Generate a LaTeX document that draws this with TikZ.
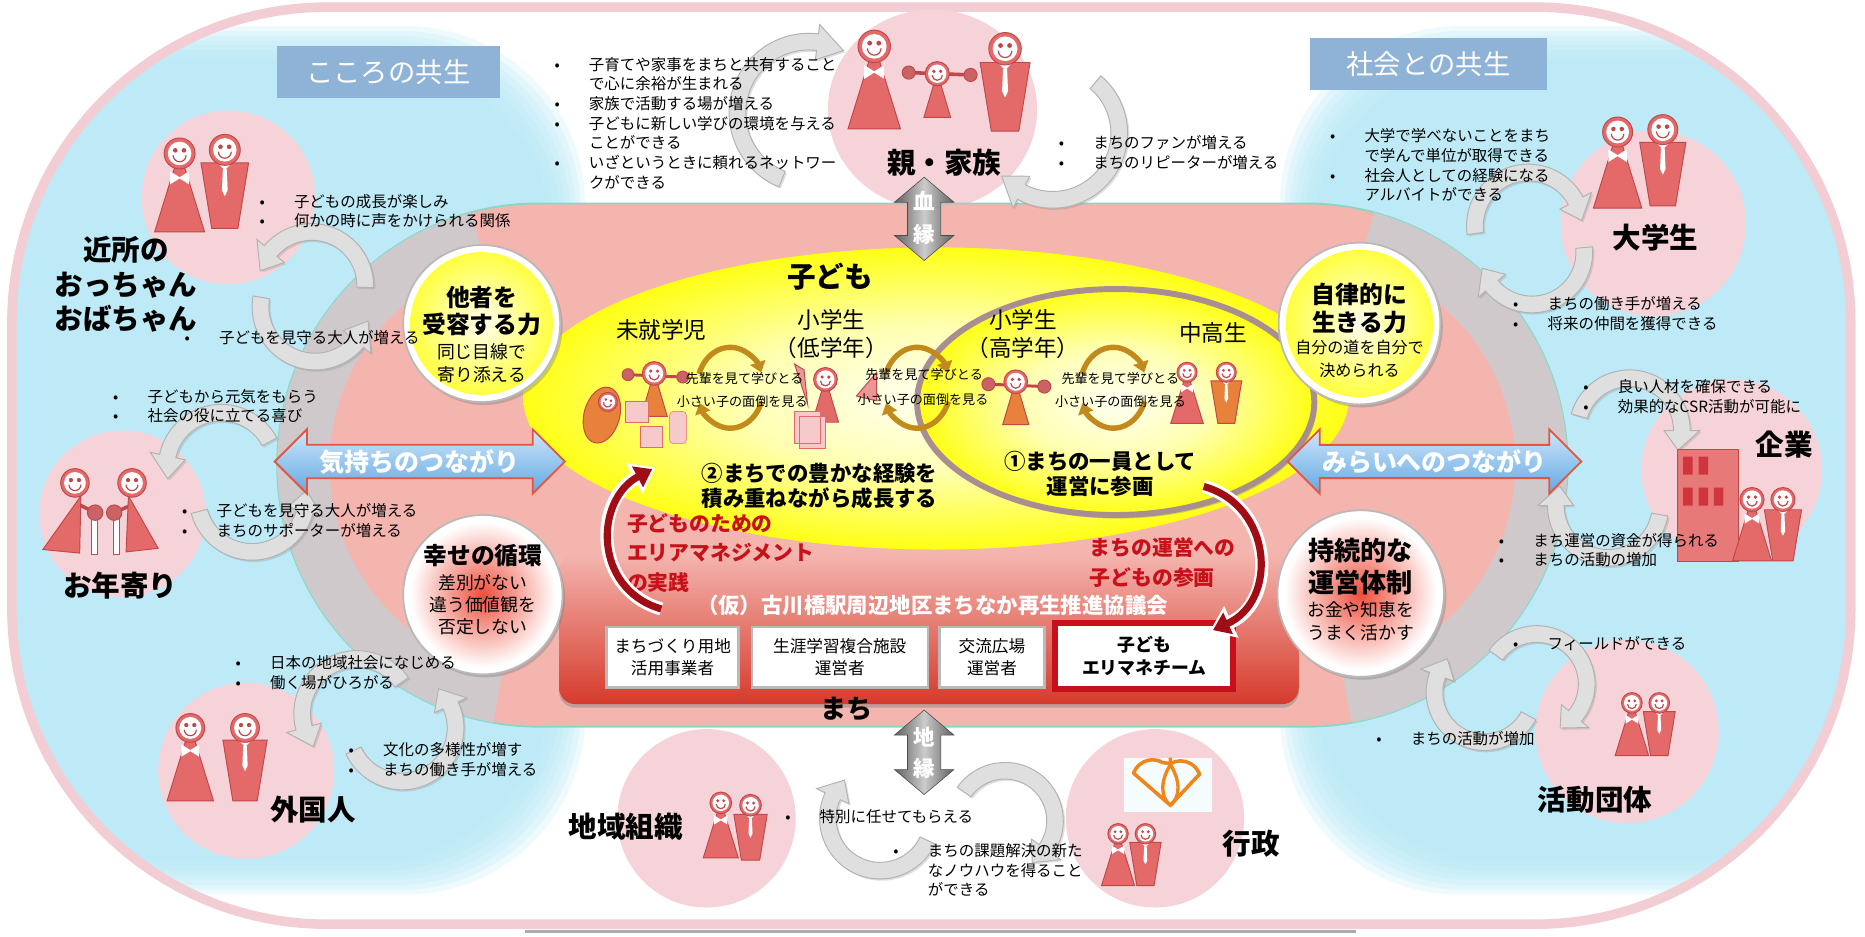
\documentclass[tikz,border=0pt]{standalone}
\usepackage{fontspec}
\setmainfont{Noto Sans CJK JP}
\usetikzlibrary{positioning, calc, shapes.arrows, shadows, arrows.meta}

\definecolor{bandpink}{HTML}{F2CDD3}
\definecolor{skyblue}{HTML}{B3E7F5}
\definecolor{rosebg}{HTML}{F6D3D8}
\definecolor{salmon}{HTML}{F4B5AE}
\definecolor{tealline}{HTML}{86D8C6}
\definecolor{tagblue}{HTML}{8EB3D6}
\definecolor{figred}{HTML}{E46A6A}
\definecolor{figdark}{HTML}{C0474A}
\definecolor{kidorange}{HTML}{E8813A}
\definecolor{loopbrown}{HTML}{C28A1C}
\definecolor{deepred}{HTML}{C8101A}
\definecolor{arrowred}{HTML}{E4553F}
\definecolor{linkblue}{HTML}{62A7E2}
\definecolor{linklight}{HTML}{CFE7FA}
\definecolor{panelred}{HTML}{D63A2C}
\definecolor{ember}{HTML}{EE4E3C}
\definecolor{ringmauve}{HTML}{A88E90}
\definecolor{ringgrey}{HTML}{C9CDD1}
\definecolor{blockpink}{HTML}{F6CACA}
\definecolor{emblemorange}{HTML}{F0861A}
\colorlet{yolkcore}{yellow!5}
\colorlet{yolkmid}{yellow!30}
\colorlet{yolkrim}{yellow!92}

\pgfdeclareradialshading{yolk}{\pgfpoint{0bp}{0bp}}{color(0bp)=(yolkcore); color(12bp)=(yolkmid); color(25bp)=(yolkrim); color(50bp)=(yolkrim)}

\tikzset{
stake/.style={font=\bfseries\fontsize{24}{29}\selectfont, align=center, inner sep=0pt}, % names of the partners
pointlist/.style={font=\fontsize{13}{16.5}\selectfont, align=left, anchor=north west, inner sep=0pt}, % bullet points
cyclearrow/.style={fill=gray!25, draw=gray!60, line width=0.8pt, drop shadow={opacity=0.25, shadow xshift=1.5pt, shadow yshift=-1.5pt}}, % grey round arrows
growloop/.style={loopbrown, line width=4.5pt, -{Triangle[length=9pt, width=13pt]}}, % brown loops between age groups
looptext/.style={font=\fontsize{11}{13}\selectfont, inner sep=0pt},
doll/.style={draw=figdark, line width=0.8pt},
heading/.style={font=\bfseries\fontsize{20}{23}\selectfont, align=center, inner sep=0pt},
subtext/.style={font=\fontsize{15}{19}\selectfont, align=center, inner sep=0pt},
rim/.style={fill=white, drop shadow={opacity=0.4, shadow xshift=2pt, shadow yshift=-2.5pt}},
tag/.style={fill=tagblue, text=white, font=\fontsize{23}{25}\selectfont, minimum width=187pt, minimum height=43pt},
link/.style={double arrow, double arrow head extend=13pt, draw=arrowred, line width=1.5pt, top color=linklight, bottom color=linkblue, text=white, font=\bfseries\fontsize{21}{24}\selectfont, minimum height=244pt, inner ysep=3pt, inner xsep=6pt},
kinship/.style={left color=gray!75!black, right color=gray!75!black, middle color=gray!40, draw=gray!60!black, line width=0.5pt}, % grey double arrows
kinshiptext/.style={text=white, font=\bfseries\fontsize{18}{20}\selectfont, inner sep=0pt},
unitbox/.style={fill=white, draw=gray!55, line width=2pt, font=\fontsize{14}{19}\selectfont, align=center, minimum height=51pt, inner sep=1pt},
redtext/.style={text=deepred, font=\bfseries\fontsize{17.5}{24.5}\selectfont, align=left, inner sep=0pt},
boldtext/.style={font=\bfseries\fontsize{18}{21.5}\selectfont, align=center, inner sep=0pt},
agetext/.style={font=\fontsize{19}{24}\selectfont, align=center, inner sep=0pt},
redlink outer/.style={white, line width=11pt, -{Triangle[length=20pt, width=28pt]}},
redlink inner/.style={deepred!80!black, line width=6pt, shorten >=3pt, -{Triangle[length=14pt, width=19pt]}},
}

\newcommand\dotitem{\makebox[29pt][l]{•}}
\newcommand\itemgap{\hspace*{29pt}}
% smiling head of radius #1 at the origin
\newcommand\smiley[1]{%
  \filldraw[fill=figred, doll] (0,0) circle (#1);
  \fill[white] (0,0) circle (0.76*#1);
  \fill[figdark] (-0.28*#1,-0.2*#1) circle (0.15*#1) (0.28*#1,-0.2*#1) circle (0.15*#1);
  \draw[figdark, line width=1pt] (-0.42*#1,0.12*#1) arc[start angle=180, end angle=0, radius=0.42*#1];}
\newcommand\lady[4]{% head centre x, y, size, dress colour
  \begin{scope}[shift={(#1,#2)}, scale=#3]
    \filldraw[fill=#4, doll] (-4,11) -- (4,11) -- (21,66) -- (-21,66) -- cycle;
    \fill[white] (-8,15) -- (0,20) -- (8,15) -- (8,26) -- (0,21) -- (-8,26) -- cycle;
    \smiley{13}
  \end{scope}}
\newcommand\gent[4]{% head centre x, y, size, suit colour
  \begin{scope}[shift={(#1,#2)}, scale=#3]
    \filldraw[fill=#4, doll] (-20,11) -- (20,11) -- (11,66) -- (-11,66) -- cycle;
    \fill[white] (-6,11) -- (6,11) -- (0,17) -- cycle;
    \fill[white] (-1.6,16) -- (1.6,16) -- (2.4,34) -- (0,39) -- (-2.4,34) -- cycle;
    \smiley{13}
  \end{scope}}
\newcommand\kid[4]{% head centre x, y, size, body colour
  \begin{scope}[shift={(#1,#2)}, scale=#3]
    \filldraw[fill=#4, doll] (-3,9) -- (3,9) -- (11,36) -- (-11,36) -- cycle;
    \smiley{10}
  \end{scope}}
% grey round arrow: centre, radius, from, to, tip offset
\newcommand\cyclearc[5]{%
  \pgfmathsetmacro\tipangle{#4+#5}%
  \filldraw[cyclearrow] ($(#1)+(#3:#2+7)$) arc[start angle=#3, end angle=#4, radius=#2+7]
    -- ($(#1)+(#4:#2+15)$) -- ($(#1)+(\tipangle:#2)$) -- ($(#1)+(#4:#2-15)$)
    -- ($(#1)+(#4:#2-7)$) arc[start angle=#4, end angle=#3, radius=#2-7] -- cycle;}
% round statement disc
\newcommand\roundel[4]{%
  \fill[rim] (#1) circle (#2);
  \shade[inner color=#3, outer color=#4] (#1) circle (#2-6);
  \draw[gray!55, line width=1.5pt] (#1) circle (#2);}
% vertical grey double arrow: x, top y, bottom y
\newcommand\kinarrow[3]{%
  \path[kinship] (#1,#2) -- (#1+25,#2+21) -- (#1+14,#2+21) -- (#1+14,#3-21) -- (#1+25,#3-21)
    -- (#1,#3) -- (#1-25,#3-21) -- (#1-14,#3-21) -- (#1-14,#2+21) -- (#1-25,#2+21) -- cycle;}

\begin{document}
\begin{tikzpicture}[x=1pt, y=-1pt]
\useasboundingbox (0,0) rectangle (1568,787);

% light blue fields left and right, soft edged
\begin{scope}
  \clip[rounded corners=265pt] (10,6) rectangle (1556,777);
  \foreach \k in {0,...,7} {
    \fill[skyblue, opacity=0.22, rounded corners=150pt] (-40+4*\k,22+4*\k) rectangle (492-4*\k,752-4*\k);
    \fill[skyblue, opacity=0.22, rounded corners=150pt] (1076+4*\k,22+4*\k) rectangle (1608-4*\k,752-4*\k);
  }
\end{scope}
\draw[bandpink, line width=8pt, rounded corners=265pt] (10,6) rectangle (1556,777);

% pink discs behind the partners
\fill[rosebg] (192,166) circle (73);
\fill[rosebg] (103,432) circle (70);
\fill[rosebg] (207,648) circle (74);
\fill[rosebg] (784,92) ellipse [x radius=88, y radius=84];
\fill[rosebg] (1390,188) circle (78);
\fill[rosebg] (1456,395) circle (76);
\fill[rosebg] (1368,615) circle (77);
\fill[rosebg] (594,688) circle (75);
\fill[rosebg] (971,688) circle (75);

% the town area with a grey band along both ends
\filldraw[fill=salmon, draw=tealline, line width=1.5pt, rounded corners=220pt] (233,171) rectangle (1318,611);
\begin{scope}[ringgrey, line width=44pt, opacity=0.85]
  \draw (453,391) ++(100:198) arc[start angle=100, end angle=255, radius=198];
  \draw (1098,391) ++(-75:198) arc[start angle=-75, end angle=80, radius=198];
\end{scope}

% round arrows between the partners and the town
\cyclearc{680,95}{60}{112}{277}{22}
\cyclearc{885,112}{56}{-50}{118}{22}
\cyclearc{262,240}{45}{2}{-140}{-24}
\cyclearc{265,258}{46}{190}{40}{-25}
\cyclearc{186,393}{46}{-28}{-168}{-24}
\cyclearc{212,418}{46}{165}{15}{-22}
\cyclearc{300,600}{46}{-35}{-195}{-22}
\cyclearc{338,612}{45}{155}{-25}{-22}
\cyclearc{740,688}{44}{25}{205}{22}
\cyclearc{845,690}{42}{215}{395}{22}
\cyclearc{1285,190}{45}{172}{332}{22}
\cyclearc{1288,212}{44}{-5}{140}{22}
\cyclearc{1370,362}{44}{196}{360}{22}
\cyclearc{1352,425}{44}{10}{180}{22}
\cyclearc{1292,575}{42}{215}{400}{22}
\cyclearc{1248,582}{42}{28}{200}{22}

% partners
\lady{151}{129}{1}{figred}
\gent{189}{126}{1}{figred}
\lady{735}{39}{1.05}{figred}
\gent{845}{41}{1.05}{figred}
\draw[figdark, line width=3pt] (764,61) -- (816,63);
\filldraw[fill=figdark!85, doll] (764,61) circle (5.5) (816,63) circle (5.5);
\kid{788}{62}{1.02}{figred}
\lady{160}{612}{0.93}{figred}
\gent{206}{612}{0.93}{figred}
\lady{1360}{111}{0.97}{figred}
\gent{1398}{109}{0.97}{figred}
\lady{1372}{591}{0.67}{figred}
\gent{1395}{591}{0.67}{figred}
\lady{606}{675}{0.7}{figred}
\gent{631}{677}{0.7}{figred}
\lady{940}{701}{0.66}{figred}
\gent{963}{701}{0.66}{figred}
% elderly pair with canes
\draw[figdark, line width=3pt] (66,424) -- (80,431) (112,424) -- (96,431);
\filldraw[fill=figred, doll] (68,417) -- (36,462) -- (67,465) -- cycle;
\filldraw[fill=figred, doll] (108,417) -- (133,461) -- (106,464) -- cycle;
\filldraw[fill=white, draw=figdark, line width=0.6pt] (77,434) rectangle (82,466) (95,434) rectangle (100,466);
\filldraw[fill=figdark!85, doll] (80,431) circle (6.5) (96,431) circle (6.5);
\begin{scope}[shift={(63,406)}] \smiley{12} \end{scope}
\begin{scope}[shift={(111,406)}] \smiley{12} \end{scope}
% company building and staff
\filldraw[fill=figred!90, draw=figdark] (1410,378) rectangle (1461,472);
\fill[deepred!85] (1415,384) rectangle (1423,399) (1428,384) rectangle (1436,399)
  (1415,410) rectangle (1423,425) (1428,410) rectangle (1436,425) (1441,410) rectangle (1449,425);
\lady{1473}{420}{0.78}{figred}
\gent{1499}{420}{0.78}{figred}
% city emblem
\fill[cyan!4] (945,637) rectangle (1019,683);
\draw[emblemorange, line width=3pt, line join=round] (984,677) -- (953,650) arc[start angle=200, end angle=300, radius=17] -- (984,642)
  arc[start angle=240, end angle=340, radius=17] -- cycle;
\draw[emblemorange, line width=2.8pt] (984,643) .. controls (975,657) and (976,671) .. (984,677) .. controls (992,671) and (993,657) .. (984,643) -- (984,637);

% children field
\shade[shading=yolk] (787,335) ellipse [x radius=347, y radius=127];
\shadedraw[shading=yolk, draw=ringmauve, line width=5pt, drop shadow={opacity=0.35, shadow xshift=2pt, shadow yshift=-3pt}] (938,338) ellipse [x radius=167, y radius=95];

% council panel with its members
\node[top color=salmon, bottom color=panelred, rounded corners=14pt, minimum width=622pt, minimum height=126pt, drop shadow={opacity=0.45, shadow xshift=0pt, shadow yshift=-3pt}] (panel) at (781,529) {};
\node[boldtext, text=white] (council) at (784,509) {（仮）古川橋駅周辺地区まちなか再生推進協議会};
\node[unitbox, minimum width=111pt] (landuse) at (565.5,552.5) {まちづくり用地\\活用事業者};
\node[unitbox, minimum width=148pt] (learning) at (706,552.5) {生涯学習複合施設\\運営者};
\node[unitbox, minimum width=88pt] (plaza) at (834,552.5) {交流広場\\運営者};
\node[unitbox, draw=deepred, line width=5pt, minimum width=150pt, minimum height=56pt, font=\bfseries\fontsize{15}{20}\selectfont] (team) at (962,551.5) {子ども\\エリマネチーム};
\node[stake, font=\bfseries\fontsize{22}{24}\selectfont] (town) at (712,596) {まち};

% four round statements
\roundel{405,272}{66}{yellow!6}{yellow!75}
\roundel{1143,272}{68}{yellow!6}{yellow!75}
\roundel{406,500}{67}{ember}{white}
\roundel{1144,499}{70}{ember}{white}
\node[heading] (accept) at (405,261.5) {他者を\\受容する力};
\node[subtext] (accept-note) at (405,305.5) {同じ目線で\\寄り添える};
\node[heading] (selfrule) at (1143,259.5) {自律的に\\生きる力};
\node[subtext, font=\fontsize{13.5}{19}\selectfont] (selfrule-note) at (1143,301.5) {自分の道を自分で\\決められる};
\node[heading] (happiness) at (406,467) {幸せの循環};
\node[subtext, font=\fontsize{15}{18.5}\selectfont] (happiness-note) at (406,508.5) {差別がない\\違う価値観を\\否定しない};
\node[heading, font=\bfseries\fontsize{22}{27}\selectfont] (lasting) at (1144,476) {持続的な\\運営体制};
\node[subtext] (lasting-note) at (1144,522.5) {お金や知恵を\\うまく活かす};

% links to both sides, to the family and to the neighbourhood
\node[link] (feeling) at (353,388) {気持ちのつながり};
\node[link, minimum height=247pt] (future) at (1206,388) {みらいへのつながり};
\kinarrow{777}{149}{219}
\node[kinshiptext] (blood-a) at (777,169) {血};
\node[kinshiptext] (blood-b) at (777,197) {縁};
\kinarrow{777}{597}{668}
\node[kinshiptext] (land-a) at (777,620) {地};
\node[kinshiptext] (land-b) at (777,646) {縁};

% labels
\node[tag] (kokoro) at (326.5,60.5) {こころの共生};
\node[tag, minimum width=200pt, minimum height=44pt] (shakai) at (1201,54) {社会との共生};
\node[stake] (neighbours) at (106,239) {近所の\\おっちゃん\\おばちゃん};
\node[stake] (elderly) at (101,492) {お年寄り};
\node[stake] (foreigners) at (263,681) {外国人};
\node[stake] (family) at (794,137) {親・家族};
\node[stake] (students) at (1392,200) {大学生};
\node[stake] (companies) at (1500,374) {企業};
\node[stake] (groups) at (1341,672) {活動団体};
\node[stake] (community) at (526,695) {地域組織};
\node[stake] (cityhall) at (1052,709) {行政};

% children and their age groups
\node[stake] (children) at (698,233) {子ども};
\node[agetext] (preschool) at (556,277) {未就学児};
\node[agetext] (lowergrade) at (699,281) {小学生\\（低学年）};
\node[agetext] (uppergrade) at (860,281) {小学生\\（高学年）};
\node[agetext] (teens) at (1020,280) {中高生};
\foreach \cx in {614, 771, 936} {
  \draw[growloop] (\cx,326) ++(200:28 and 34) arc[start angle=200, end angle=338, x radius=28, y radius=34];
  \draw[growloop] (\cx,326) ++(20:28 and 34) arc[start angle=20, end angle=158, x radius=28, y radius=34];
}
\begin{scope}[shift={(506,349)}, rotate=-15]
  \filldraw[fill=kidorange, doll] (0,0) ellipse [x radius=15, y radius=24];
  \begin{scope}[shift={(2,-12)}] \smiley{8} \end{scope}
\end{scope}
\draw[figdark, line width=2.5pt] (528,315) -- (574,317);
\filldraw[fill=figdark!85, doll] (528,315) circle (5) (574,317) circle (5);
\kid{550}{314}{1}{kidorange}
\filldraw[fill=blockpink, draw=figred] (526,337) rectangle (545,355) (538,358) rectangle (557,376);
\filldraw[fill=blockpink, draw=figred, rounded corners=3pt] (563,346) rectangle (577,373);
\filldraw[fill=figred!70, doll] (668,306) -- (676,311) -- (679,340) -- cycle;
\filldraw[fill=figred!70, doll] (720,333) -- (737,313) -- (737,337) -- cycle;
\kid{694}{319}{1}{figred}
\filldraw[fill=blockpink, draw=figred] (672,350) rectangle (694,377) (668,346) rectangle (690,373);
\draw[figdark, line width=2.5pt] (831,323) -- (878,325);
\filldraw[fill=figdark!85, doll] (831,323) circle (5.5) (878,325) circle (5.5);
\kid{854}{321}{1}{kidorange}
\lady{998}{313}{0.65}{figred}
\gent{1031}{313}{0.65}{kidorange}
\node[looptext] (learn-a) at (626,318) {先輩を見て学びとる};
\node[looptext] (care-a) at (624,338) {小さい子の面倒を見る};
\node[looptext] (learn-b) at (777,315) {先輩を見て学びとる};
\node[looptext] (care-b) at (776,336) {小さい子の面倒を見る};
\node[looptext] (learn-c) at (942,318) {先輩を見て学びとる};
\node[looptext] (care-c) at (942,338) {小さい子の面倒を見る};
\node[boldtext] (growth) at (689,408.5) {②まちでの豊かな経験を\\積み重ねながら成長する};
\node[boldtext] (member) at (925,398.5) {①まちの一員として\\運営に参画};

% red curved arrows between council and children
\node[redtext, anchor=west] (practice) at (527,465) {子どものための\\エリアマネジメント\\の実践};
\node[redtext, anchor=west] (takepart) at (916,473) {まちの運営への\\子どもの参画};
\coordinate (practice-tail) at (556,512);
\coordinate (practice-head) at (551,393);
\coordinate (takepart-tail) at (1012,409);
\coordinate (takepart-head) at (1017,531);
\draw[redlink outer] (practice-tail) .. controls (498,495) and (500,420) .. (practice-head);
\draw[redlink inner] (practice-tail) .. controls (498,495) and (500,420) .. (practice-head);
\draw[redlink outer] (takepart-tail) .. controls (1070,425) and (1075,505) .. (takepart-head);
\draw[redlink inner] (takepart-tail) .. controls (1070,425) and (1075,505) .. (takepart-head);

% what each partner gains
\node[pointlist] (family-gain) at (466,48) {\dotitem 子育てや家事をまちと共有すること\\\itemgap で心に余裕が生まれる\\\dotitem 家族で活動する場が増える\\\dotitem 子どもに新しい学びの環境を与える\\\itemgap ことができる\\\dotitem いざというときに頼れるネットワー\\\itemgap クができる};
\node[pointlist] (family-town) at (890,114) {\dotitem まちのファンが増える\\\dotitem まちのリピーターが増える};
\node[pointlist] (neigh-gain) at (218,163) {\dotitem 子どもの成長が楽しみ\\\dotitem 何かの時に声をかけられる関係};
\node[pointlist] (neigh-town) at (155,278) {\dotitem 子どもを見守る大人が増える};
\node[pointlist] (elder-gain) at (95,327) {\dotitem 子どもから元気をもらう\\\dotitem 社会の役に立てる喜び};
\node[pointlist] (elder-town) at (153,423) {\dotitem 子どもを見守る大人が増える\\\dotitem まちのサポーターが増える};
\node[pointlist] (foreign-gain) at (198,551) {\dotitem 日本の地域社会になじめる\\\dotitem 働く場がひろがる};
\node[pointlist] (foreign-town) at (293,624) {\dotitem 文化の多様性が増す\\\dotitem まちの働き手が増える};
\node[pointlist] (community-gain) at (660,680) {\dotitem 特別に任せてもらえる};
\node[pointlist] (city-gain) at (751,709) {\dotitem まちの課題解決の新た\\\itemgap なノウハウを得ること\\\itemgap ができる};
\node[pointlist] (student-gain) at (1118,108) {\dotitem 大学で学べないことをまち\\\itemgap で学んで単位が取得できる\\\dotitem 社会人としての経験になる\\\itemgap アルバイトができる};
\node[pointlist] (student-town) at (1272,249) {\dotitem まちの働き手が増える\\\dotitem 将来の仲間を獲得できる};
\node[pointlist] (company-gain) at (1331,319) {\dotitem 良い人材を確保できる\\\dotitem 効果的なCSR活動が可能に};
\node[pointlist] (company-town) at (1260,448) {\dotitem まち運営の資金が得られる\\\dotitem まちの活動の増加};
\node[pointlist] (group-gain) at (1272,535) {\dotitem フィールドができる};
\node[pointlist] (group-town) at (1157,615) {\dotitem まちの活動が増加};

\draw[gray!65, line width=2.5pt] (441,783) -- (1140,783);
\end{tikzpicture}
\end{document}
